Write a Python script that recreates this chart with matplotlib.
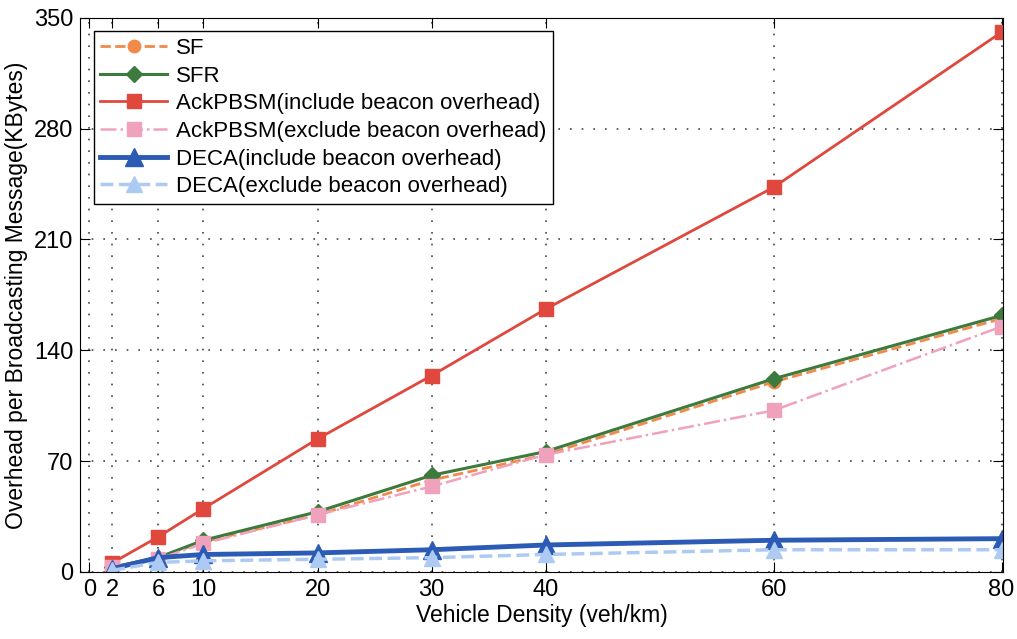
import matplotlib
matplotlib.use("Agg")
import matplotlib.pyplot as plt

plt.rcParams['font.family'] = ['Liberation Sans', 'DejaVu Sans']

# vehicle density (veh/km)
density = [2, 6, 10, 20, 30, 40, 60, 80]

sf = [3, 9, 19, 36, 58, 74, 120, 160]
sfr = [3, 9, 20, 38, 61, 76, 122, 162]
ack_inc = [5.7, 22, 40, 84, 124, 166, 243, 341]
ack_exc = [3, 8, 18, 36, 54, 74, 102, 155]
deca_inc = [2, 9, 11, 12, 14, 17, 20, 21]
deca_exc = [1, 6, 7, 8, 9, 11, 14, 14]

xticks = [0, 2, 6, 10, 20, 30, 40, 60, 80]
yticks = [0, 70, 140, 210, 280, 350]

fig = plt.figure(figsize=(10.17, 6.39), dpi=100)
ax = fig.add_axes([0.079, 0.105, 0.907, 0.867])

ax.plot(density, sf, color='#F08A4B', ls='--', lw=2, marker='o', ms=9, label='SF')
ax.plot(density, sfr, color='#3D7A3D', ls='-', lw=2.2, marker='D', ms=8, label='SFR')
ax.plot(density, ack_inc, color='#E0483E', ls='-', lw=2, marker='s', ms=10, label='AckPBSM(include beacon overhead)')
ax.plot(density, ack_exc, color='#F0A2BC', ls='-.', lw=1.8, marker='s', ms=10, label='AckPBSM(exclude beacon overhead)')
ax.plot(density, deca_inc, color='#2C5BB5', ls='-', lw=3.5, marker='^', ms=13, label='DECA(include beacon overhead)')
ax.plot(density, deca_exc, color='#ADCBF2', ls='--', lw=2.5, marker='^', ms=12, label='DECA(exclude beacon overhead)')

ax.set_xlim(-0.8, 80.1)
ax.set_ylim(0, 350)
ax.set_xticks(xticks)
ax.set_yticks(yticks)
ax.tick_params(labelsize=17, direction='in', length=7, top=True, right=True, pad=5)
ax.grid(True, ls=(0, (1, 6)), color='#444444', lw=1.2)
ax.set_xlabel('Vehicle Density (veh/km)', fontsize=16.5, labelpad=2)
ax.set_ylabel('Overhead per Broadcasting Message(KBytes)', fontsize=16.5, labelpad=4)

leg = ax.legend(loc='upper left', fontsize=16, frameon=True, fancybox=False,
                edgecolor='black', borderaxespad=0.6, labelspacing=0.3,
                handlelength=3, handletextpad=0.4, borderpad=0.3, framealpha=1)
leg.get_frame().set_linewidth(1)

fig.savefig('out.png', dpi=100)
